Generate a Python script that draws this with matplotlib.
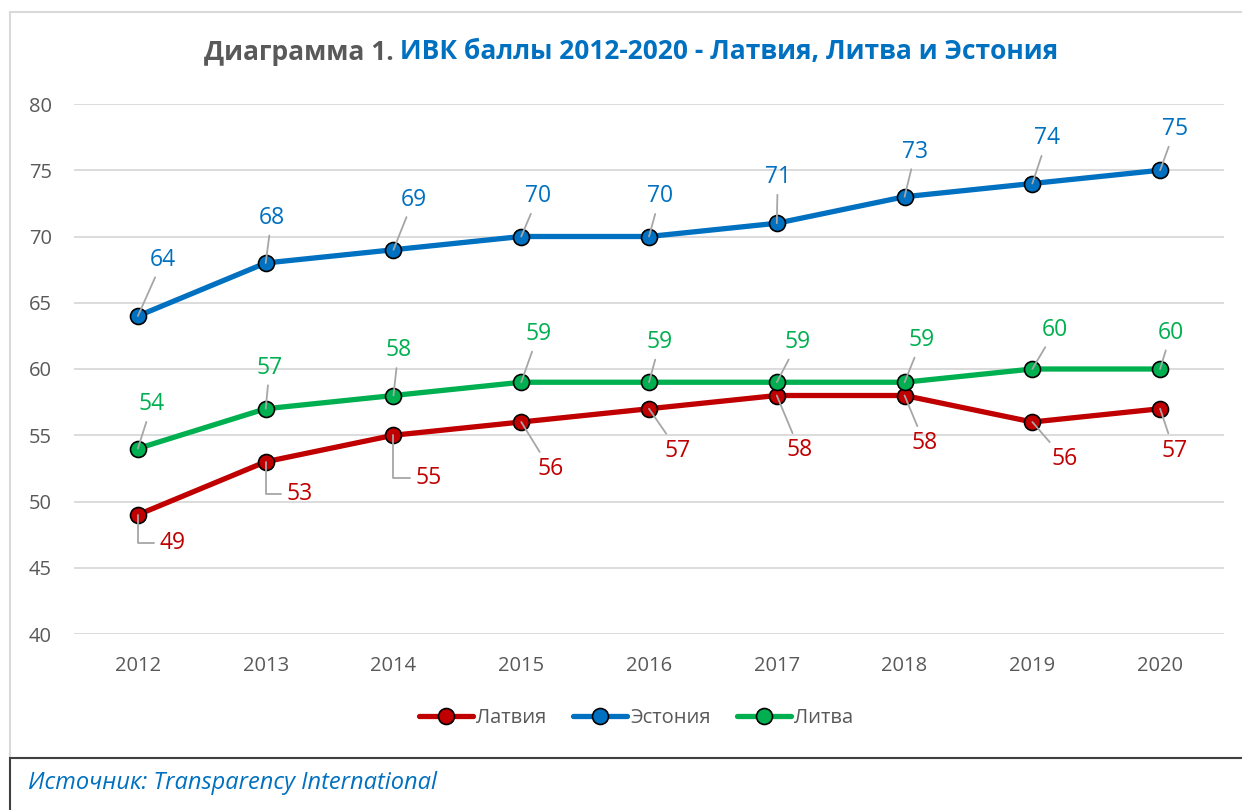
import matplotlib
matplotlib.use('Agg')
import matplotlib.pyplot as plt
from matplotlib.patches import Rectangle

plt.rcParams['font.family'] = ['Open Sans', 'DejaVu Sans']

# data
years = ['2012', '2013', '2014', '2015', '2016', '2017', '2018', '2019', '2020']
latvia = [49, 53, 55, 56, 57, 58, 58, 56, 57]
estonia = [64, 68, 69, 70, 70, 71, 73, 74, 75]
lithuania = [54, 57, 58, 59, 59, 59, 59, 60, 60]

# label offsets (pixels, x right / y down) from each marker
lv_off = [(35, 28), (34, 32), (35, 43), (29, 47), (29, 42), (23, 55), (20, 48), (32, 37), (14, 42)]
ee_off = [(25, -56), (6, -45), (20, -50), (17, -40), (11, -40), (1, -46), (11, -45), (15, -45), (15, -41)]
lt_off = [(14, -44), (4, -41), (5, -45), (17, -48), (11, -40), (21, -40), (17, -42), (23, -39), (11, -36)]
lv_elbow = [True, True, True, False, False, False, False, False, False]

W, H = 1242, 810
fig = plt.figure(figsize=(W / 100, H / 100), dpi=100)

# outer chart frame and source box
fig.add_artist(Rectangle((10 / W, 1 - 758 / H), 1.1, (758 - 12) / H, transform=fig.transFigure,
                         fill=False, edgecolor='#D9D9D9', lw=1.5))
fig.add_artist(Rectangle((10 / W, -0.1), 1.1, 0.1 + 1 - 758 / H, transform=fig.transFigure,
                         fill=False, edgecolor='#404040', lw=1.5))

ax = fig.add_axes([74 / W, 1 - 634 / H, 1150 / W, 530 / H])
x = list(range(len(years)))

series = [('Латвия', latvia, '#C00000', lv_off),
          ('Эстония', estonia, '#0070C0', ee_off),
          ('Литва', lithuania, '#00B050', lt_off)]

for name, vals, col, offs in series:
    ax.plot(x, vals, color=col, lw=3.8, marker='o', ms=11.5, mfc=col, mec='black', mew=1.2,
            label=name, zorder=3, solid_capstyle='round')

for name, vals, col, offs in series:
    for i, v in enumerate(vals):
        dx, dy = offs[i]
        cs = 'arc3'
        if name == 'Латвия' and lv_elbow[i]:
            cs = 'angle,angleA=180,angleB=90,rad=0'
        ax.annotate(str(v), xy=(i, v), xytext=(dx, -dy), textcoords='offset pixels',
                    ha='center', va='center', fontsize=16.5, color=col, zorder=5,
                    annotation_clip=False,
                    arrowprops=dict(arrowstyle='-', color='#A6A6A6', lw=1.3,
                                    shrinkA=2, shrinkB=0, connectionstyle=cs))

ax.set_xlim(-0.5, len(years) - 0.5)
ax.set_ylim(40, 80)
ax.set_yticks(range(40, 81, 5))
ax.set_xticks(x)
ax.set_xticklabels(years)
ax.tick_params(length=0, labelsize=14.5, labelcolor='#595959')
ax.tick_params(axis='y', pad=16)
ax.tick_params(axis='x', pad=16)
ax.grid(axis='y', color='#D9D9D9', lw=1.3)
ax.set_axisbelow(True)
for s in ax.spines.values():
    s.set_visible(False)

fig.legend(loc='center', bbox_to_anchor=(636 / W, 1 - 718 / H), ncol=3, frameon=False,
           fontsize=14.5, labelcolor='#595959', handlelength=2.7, handletextpad=0.15,
           columnspacing=1.3)

# two-colour title
t1 = fig.text(0, 1 - 52 / H, 'Диаграмма 1.', fontsize=19, fontweight='bold',
              color='#595959', ha='left', va='center')
t2 = fig.text(0, 1 - 52 / H, ' ИВК баллы 2012-2020 - Латвия, Литва и Эстония', fontsize=19,
              fontweight='bold', color='#0070C0', ha='left', va='center')
fig.canvas.draw()
r = fig.canvas.get_renderer()
w1 = t1.get_window_extent(r).width
w2 = t2.get_window_extent(r).width
left = 631 - (w1 + w2) / 2
t1.set_x(left / W)
t2.set_x((left + w1) / W)

fig.text(28 / W, 1 - 783 / H, 'Источник: Transparency International', fontsize=17,
         style='italic', color='#0070C0', ha='left', va='center')

fig.savefig('out.png', dpi=100)
